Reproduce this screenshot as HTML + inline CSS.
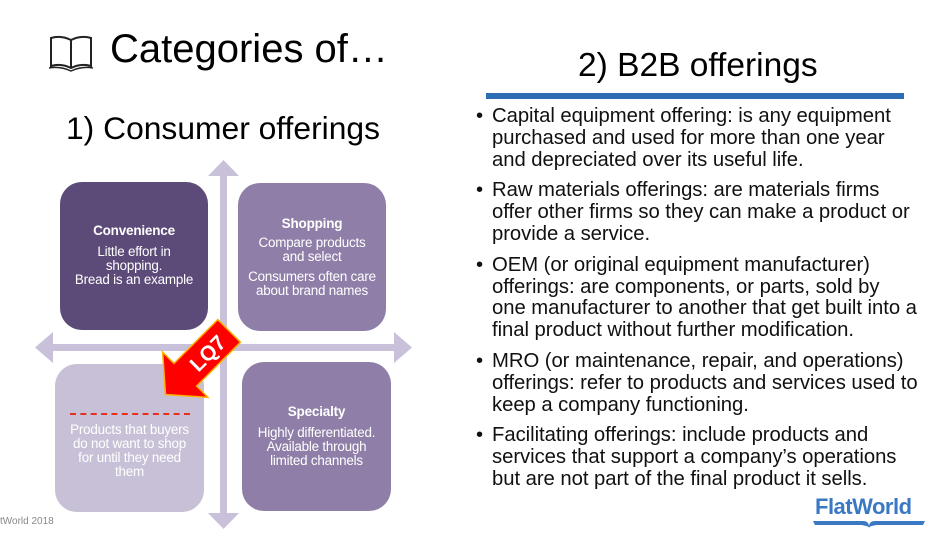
<!DOCTYPE html>
<html><head><meta charset="utf-8"><style>
body{margin:0;width:939px;height:539px;background:#fff;position:relative;overflow:hidden;font-family:"Liberation Sans",Arial,sans-serif}
.a{position:absolute}
.box{position:absolute;border-radius:22px;color:#fff;text-align:center;font-size:13.4px;line-height:14px;box-sizing:border-box;letter-spacing:-0.2px}
.box b{font-size:13.5px}
ul{position:absolute;left:476px;top:106px;width:460px;margin:0;padding:0;list-style:none;font-size:20.3px;line-height:21.8px;color:#111;letter-spacing:-0.05px;white-space:nowrap}
li{position:relative;padding-left:16px;margin-bottom:9px}
li:before{content:"•";position:absolute;left:0}
</style></head><body>
<svg class="a" style="left:48px;top:34px" width="46" height="38" viewBox="0 0 46 38"><path d="M3 4 Q13 1 23 6 Q33 1 43 4 V32 Q33 29 23 34 Q13 29 3 32 Z M23 6 V34" fill="none" stroke="#222" stroke-width="2"/><path d="M1 34 Q12 32 23 37 Q34 32 45 34" fill="none" stroke="#222" stroke-width="1.5"/></svg>
<div class="a" style="left:110px;top:27px;font-size:40px">Categories of…</div>
<div class="a" style="left:66px;top:110px;font-size:31.8px">1) Consumer offerings</div>
<svg class="a" style="left:0;top:0" width="939" height="539">
<g fill="#c9c0d9">
<rect x="220" y="172" width="7" height="344"/>
<polygon points="223.5,160 208,176 239,176"/>
<polygon points="223.5,529 208,513 239,513"/>
<rect x="50" y="344" width="348" height="7"/>
<polygon points="35,347.5 53,332 53,363"/>
<polygon points="412,347.5 394,332 394,363"/>
</g>
</svg>
<div class="box" style="left:60px;top:182px;width:148px;height:148px;background:#5c4a78;padding-top:42px"><b>Convenience</b><div style="margin-top:7px">Little effort in<br>shopping.<br>Bread is an example</div></div>
<div class="box" style="left:238px;top:183px;width:148px;height:148px;background:#8f7fa8;padding-top:34px"><b>Shopping</b><div style="margin-top:5px">Compare products<br>and select</div><div style="margin-top:6px">Consumers often care<br>about brand names</div></div>
<div class="box" style="left:55px;top:364px;width:149px;height:148px;background:#c8c0d6;padding-top:49px"><div style="border-top:2px dashed #e8301c;width:120px;margin:0 auto 8px"></div>Products that buyers<br>do not want to shop<br>for until they need<br>them</div>
<div class="box" style="left:242px;top:362px;width:149px;height:149px;background:#8f7fa8;padding-top:43px"><b>Specialty</b><div style="margin-top:7px">Highly differentiated.<br>Available through<br>limited channels</div></div>
<svg class="a" style="left:148px;top:312px" width="100" height="100" viewBox="0 0 100 100">
<g transform="rotate(-45 50 50)">
<polygon points="4,50 32,18 32,34 94,34 94,66 32,66 32,82" fill="#f00" stroke="#ffb000" stroke-width="1.5"/>
<text x="63" y="58" font-size="21" font-weight="bold" fill="#fff" text-anchor="middle" font-family="Liberation Sans,sans-serif">LQ7</text>
</g></svg>
<div class="a" style="left:0;top:516px;font-size:10px;color:#888">tWorld 2018</div>
<div class="a" style="left:578px;top:47px;font-size:33.5px">2) B2B offerings</div>
<div class="a" style="left:486px;top:93px;width:418px;height:6px;background:#2e6db4"></div>
<ul>
<li>Capital equipment offering: is any equipment<br>purchased and used for more than one year<br>and depreciated over its useful life.</li>
<li>Raw materials offerings: are materials firms<br>offer other firms so they can make a product or<br>provide a service.</li>
<li>OEM (or original equipment manufacturer)<br>offerings: are components, or parts, sold by<br>one manufacturer to another that get built into a<br>final product without further modification.</li>
<li>MRO (or maintenance, repair, and operations)<br>offerings: refer to products and services used to<br>keep a company functioning.</li>
<li>Facilitating offerings: include products and<br>services that support a company’s operations<br>but are not part of the final product it sells.</li>
</ul>
<div class="a" style="left:815px;top:494px;font-size:22px;font-weight:bold;color:#3a78c3;letter-spacing:-0.5px">FlatWorld</div>
<svg class="a" style="left:813px;top:519px" width="112" height="10"><path d="M0 2 L50 2 Q56 2 56 8 Q56 2 62 2 L112 2 L110 6 L64 6 Q56 7 56 9 Q56 7 48 6 L2 6 Z" fill="#3a78c3"/></svg>
</body></html>
